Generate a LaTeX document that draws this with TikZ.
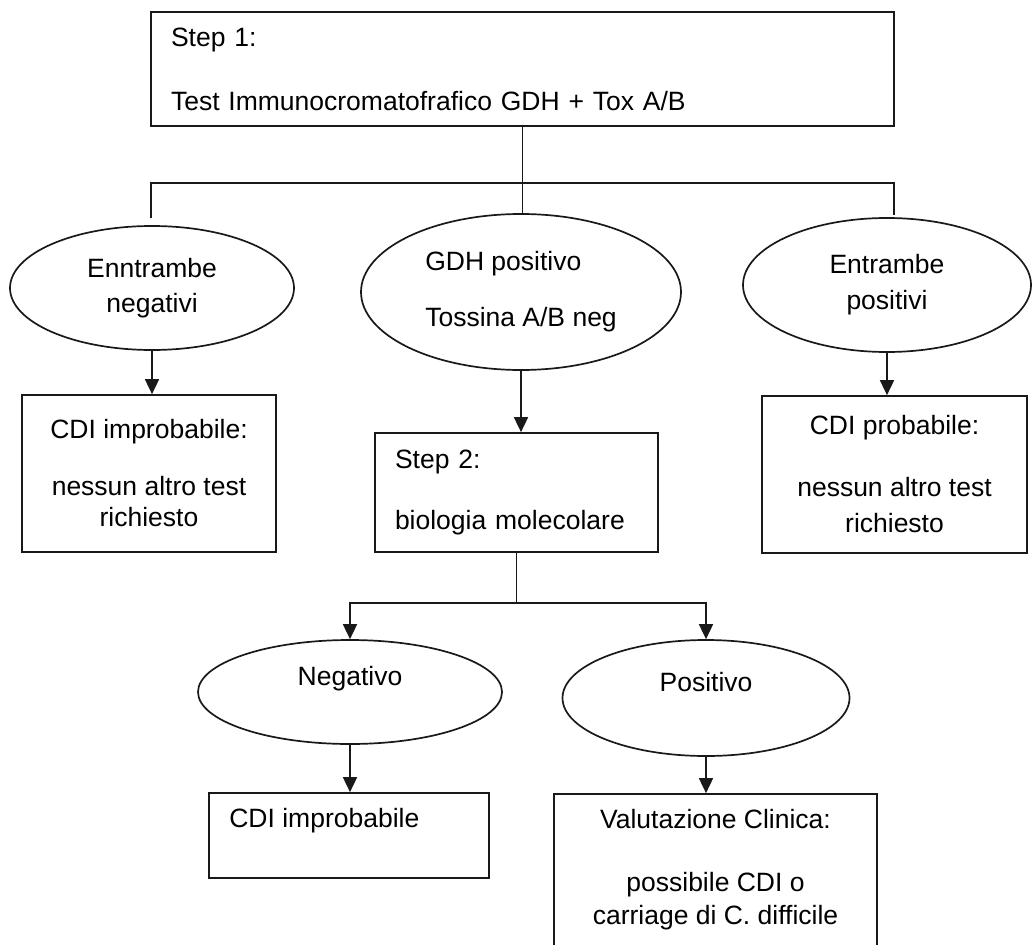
\documentclass[tikz,border=0pt]{standalone}
\usepackage{fontspec}
\setmainfont{Liberation Sans}
\usepackage{tikz}
\usetikzlibrary{shapes.geometric,arrows.meta}
\newcommand{\FlowFont}{\fontsize{26.5}{31}\selectfont}
\newcommand{\FlowLineW}{1.7pt}
\colorlet{FlowColor}{black!90}

\begin{document}
\begin{tikzpicture}[x=1pt, y=-1pt,
	boxNode/.style={draw=FlowColor, line width=\FlowLineW, rectangle, font=\FlowFont, inner sep=0pt},
	ovalNode/.style={draw=FlowColor, line width=\FlowLineW, ellipse, font=\FlowFont, inner sep=0pt},
	flowText/.style={font=\FlowFont, inner sep=0pt},
	flowLine/.style={FlowColor, line width=\FlowLineW},
	flowArrow/.style={flowLine, -{Triangle[length=15pt, width=14pt]}}]
		\useasboundingbox (0,0) rectangle (1032,944);
		
		\node[boxNode, minimum width=743, minimum height=114, text width=703, inner xsep=20pt, align=left] (step1) at (522.5,69)
		{Step 1:\\[33pt]Test Immunocromatofrafico GDH + Tox A/B};
		
		\node[ovalNode, minimum width=284, minimum height=124, align=center] (bothNeg) at (152,288) {Enntrambe\\[4pt]negativi};
		\node[ovalNode, minimum width=320, minimum height=156, align=left] (gdhPos) at (521,292) {GDH positivo\\[25pt]Tossina A/B neg};
		\node[ovalNode, minimum width=288, minimum height=134, align=center] (bothPos) at (887,285) {Entrambe\\[5pt]positivi};
		
		\node[boxNode, minimum width=254, minimum height=157, align=center] (cdiUnlikely) at (149,473.5)
		{CDI improbabile:\\[26pt]nessun altro test\\richiesto};
		\node[boxNode, minimum width=283, minimum height=119, text width=243, inner xsep=20pt, align=left] (step2) at (516.5,492.5)
		{Step 2:\\[30pt]biologia molecolare};
		\node[boxNode, minimum width=265, minimum height=157, align=center] (cdiLikely) at (894.5,474.5)
		{CDI probabile:\\[31pt]nessun altro test\\[5pt]richiesto};
		
		\node[ovalNode, minimum width=304, minimum height=104] (molNeg) at (350,692) {};
		\node[flowText] (molNegText) at ([yshift=13pt]molNeg.center) {Negativo};
		\node[ovalNode, minimum width=287, minimum height=116] (molPos) at (706,698) {};
		\node[flowText] (molPosText) at ([yshift=16pt]molPos.center) {Positivo};
		
		\node[boxNode, minimum width=280, minimum height=85] (cdiNo) at (349,835.5) {};
		\node[flowText, anchor=west] (cdiNoText) at ([xshift=21pt, yshift=15pt]cdiNo.west) {CDI improbabile};
		\node[boxNode, minimum width=323, minimum height=152, align=center] (clinic) at (715.5,870)
		{Valutazione Clinica:\\[32pt]possibile CDI o\\[2pt]carriage di C. difficile};
		
		\coordinate (forkTop) at (523,183);
		\coordinate (dropLeft) at (151,218);
		\coordinate (dropRight) at (894,215);
		\coordinate (forkMol) at (517,603);
		
		\draw[flowLine] (step1.south) -- (step1.south |- gdhPos.north);
		\draw[flowLine] (dropLeft) |- (forkTop) -| (dropRight);
		
		\draw[flowArrow] (bothNeg.south) -- (bothNeg.south |- cdiUnlikely.north);
		\draw[flowArrow] (gdhPos.south) -- (gdhPos.south |- step2.north);
		\draw[flowArrow] (bothPos.south) -- (bothPos.south |- cdiLikely.north);
		
		\draw[flowLine] (step2.south) -- (step2.south |- forkMol);
		\draw[flowArrow] (step2.south |- forkMol) -| (molNeg.north);
		\draw[flowArrow] (step2.south |- forkMol) -| (molPos.north);
		
		\draw[flowArrow] (molNeg.south) -- (molNeg.south |- cdiNo.north);
		\draw[flowArrow] (molPos.south) -- (molPos.south |- clinic.north);
	\end{tikzpicture}
\end{document}
